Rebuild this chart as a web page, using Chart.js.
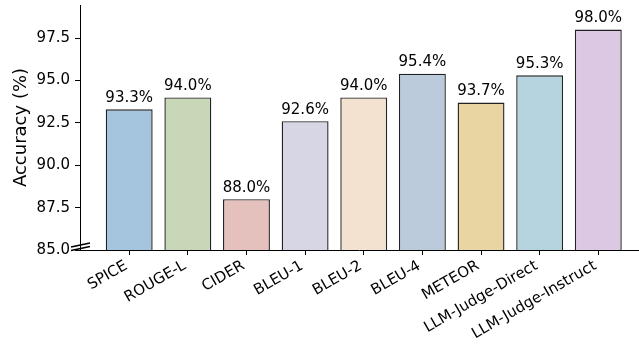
<!DOCTYPE html>
<html lang="en">
<head>
    <meta charset="UTF-8">
    <title>Accuracy by metric</title>
    <script src="https://cdn.jsdelivr.net/npm/chart.js"></script>
    <style>
        html, body { margin: 0; padding: 0; background: #fff; }
        #wrap { width: 639px; height: 348px; }
    </style>
</head>
<body>
    <div id="wrap"><canvas id="accChart" width="639" height="348"></canvas></div>

    <script>
        // Metric names and accuracy values
        const metrics = ['SPICE', 'ROUGE-L', 'CIDER', 'BLEU-1', 'BLEU-2', 'BLEU-4', 'METEOR', 'LLM-Judge-Direct', 'LLM-Judge-Instruct'];
        const accuracy = [93.3, 94.0, 88.0, 92.6, 94.0, 95.4, 93.7, 95.3, 98.0];
        const barColors = ['#a5c4de', '#c9d7b9', '#e4c1bc', '#d6d6e4', '#f3e2cf', '#bccbdc', '#e9d5a2', '#b6d4df', '#dcc8e2'];
        const yTicks = [85.0, 87.5, 90.0, 92.5, 95.0, 97.5];

        const FONT = 'DejaVu Sans';

        // Percent labels above each bar
        const valueLabels = {
            id: 'valueLabels',
            afterDatasetsDraw(chart) {
                const ctx = chart.ctx;
                const meta = chart.getDatasetMeta(0);
                ctx.save();
                ctx.font = '15px "' + FONT + '"';
                ctx.fillStyle = '#000';
                ctx.textAlign = 'center';
                ctx.textBaseline = 'bottom';
                meta.data.forEach((bar, i) => {
                    ctx.fillText(accuracy[i].toFixed(1) + '%', bar.x, bar.y - 4);
                });
                ctx.restore();
            }
        };

        // Broken-axis marks where the y axis meets the x axis
        const axisBreak = {
            id: 'axisBreak',
            afterDraw(chart) {
                const ctx = chart.ctx;
                const x0 = chart.scales.y.right;
                const y0 = chart.scales.y.getPixelForValue(85);
                ctx.save();
                ctx.strokeStyle = '#000';
                ctx.lineWidth = 1.6;
                ctx.beginPath();
                ctx.moveTo(x0 - 9, y0 - 3);
                ctx.lineTo(x0 + 10, y0 - 7);
                ctx.moveTo(x0 - 9, y0 + 0.5);
                ctx.lineTo(x0 + 10, y0 - 3.5);
                ctx.stroke();
                ctx.restore();
            }
        };

        const config = {
            type: 'bar',
            data: {
                datasets: [{
                    data: accuracy.map((v, i) => ({ x: i, y: v })),
                    backgroundColor: barColors,
                    borderColor: '#222',
                    borderWidth: 1.4,
                    borderSkipped: false,
                    barPercentage: 0.8,
                    categoryPercentage: 1.0
                }]
            },
            options: {
                responsive: false,
                animation: false,
                layout: { padding: { top: 5, right: 1, left: 11, bottom: 0 } },
                plugins: {
                    legend: { display: false },
                    tooltip: { enabled: false }
                },
                scales: {
                    x: {
                        type: 'linear',
                        offset: false,
                        min: -0.839,
                        max: 8.677,
                        afterBuildTicks: scale => { scale.ticks = metrics.map((m, i) => ({ value: i })); },
                        afterFit: scale => {
                            scale.height = 98;
                            scale.paddingLeft = 0;
                            scale.paddingRight = 0;
                        },
                        grid: { drawOnChartArea: false, drawTicks: true, tickLength: 5, tickColor: '#000', offset: false },
                        border: { color: '#000', width: 1 },
                        ticks: {
                            minRotation: 30,
                            maxRotation: 30,
                            autoSkip: false,
                            padding: 2,
                            labelOffset: -3,
                            color: '#000',
                            font: { family: FONT, size: 15 },
                            callback: v => metrics[v]
                        }
                    },
                    y: {
                        min: 85,
                        max: 99.45,
                        afterBuildTicks: scale => { scale.ticks = yTicks.map(v => ({ value: v })); },
                        afterFit: scale => {
                            scale.width = 69;
                            scale.paddingTop = 0;
                            scale.paddingBottom = 0;
                        },
                        grid: { drawOnChartArea: false, drawTicks: true, tickLength: 5, tickColor: '#000' },
                        border: { color: '#000', width: 1 },
                        ticks: {
                            padding: 5,
                            color: '#000',
                            font: { family: FONT, size: 15 },
                            callback: v => v.toFixed(1)
                        },
                        title: {
                            display: true,
                            text: 'Accuracy (%)',
                            color: '#000',
                            padding: 0,
                            font: { family: FONT, size: 18 }
                        }
                    }
                }
            },
            plugins: [valueLabels, axisBreak]
        };

        new Chart(document.getElementById('accChart').getContext('2d'), config);
    </script>
</body>
</html>
